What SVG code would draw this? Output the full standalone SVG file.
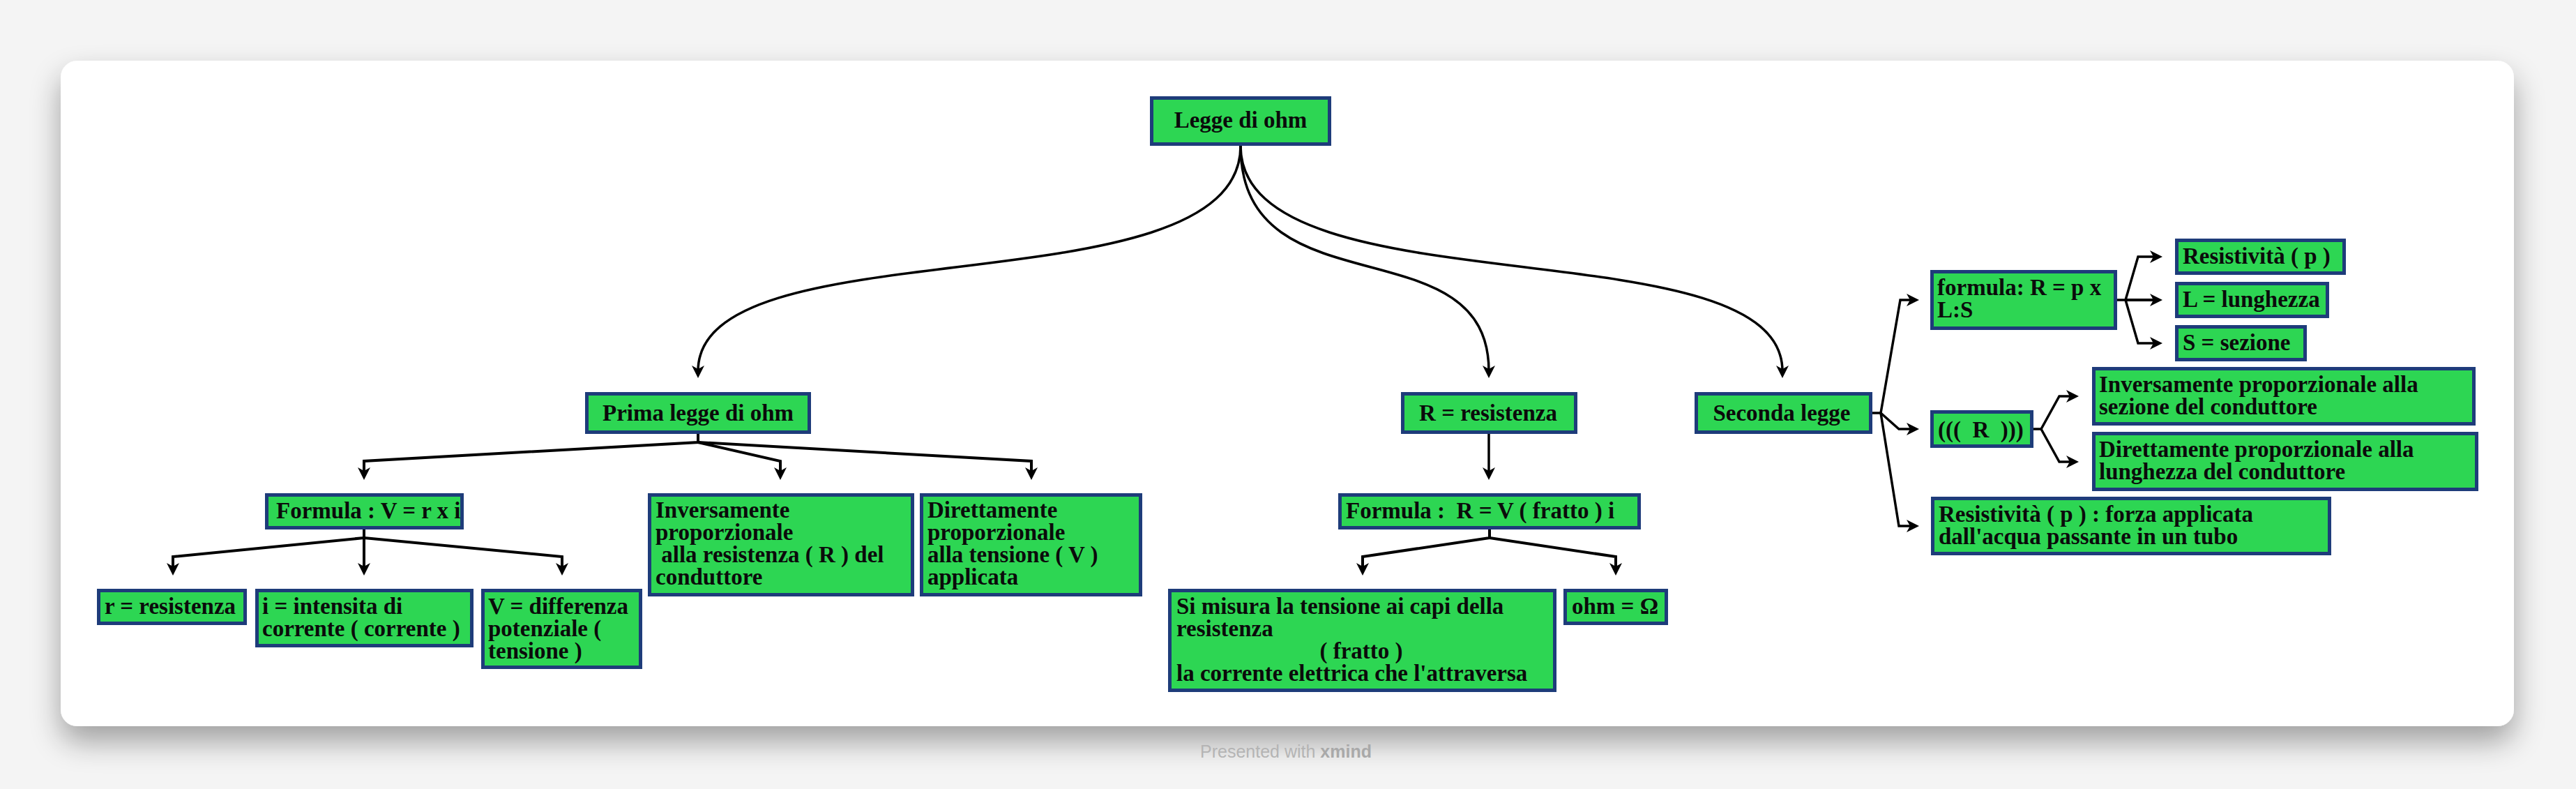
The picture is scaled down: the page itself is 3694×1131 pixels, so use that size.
<svg xmlns="http://www.w3.org/2000/svg" width="3694" height="1131" viewBox="0 0 3694 1131">
<style>
.box{fill:#2dd653;stroke:#1e3c7a;stroke-width:5}
.t{font-family:"Liberation Serif","Times New Roman",serif;font-weight:bold;font-size:33px;fill:#0b0b0b}
.c{text-anchor:middle}
.ln{fill:none;stroke:#000;stroke-width:4;stroke-linejoin:miter}
.cv{fill:none;stroke:#000;stroke-width:3.5}
.foot{font-family:"Liberation Sans","Noto Sans",sans-serif;font-size:25px;fill:#b4b4b4}
</style>
<defs>
<marker id="ah" markerUnits="userSpaceOnUse" viewBox="-12 -12 26 24" refX="0" refY="0" markerWidth="26" markerHeight="24" orient="auto">
<path d="M10,0 L-8,-9 L-3,0 L-8,9 Z" fill="#000"/>
</marker>
<filter id="sh" x="-5%" y="-10%" width="110%" height="130%">
<feGaussianBlur in="SourceAlpha" stdDeviation="22"/>
<feOffset dy="22" result="b"/>
<feComponentTransfer><feFuncA type="linear" slope="0.35"/></feComponentTransfer>
<feMerge><feMergeNode/><feMergeNode in="SourceGraphic"/></feMerge>
</filter>
</defs>
<rect x="0" y="0" width="3694" height="1131" fill="#f4f4f4"/>
<rect x="87" y="87" width="3518" height="954" rx="24" fill="#ffffff" filter="url(#sh)"/>
<text class="foot" x="1721" y="1086">Presented with <tspan font-weight="bold" fill="#a9a9a9">xmind</tspan></text>

<g id="connectors">
<path class="cv" marker-end="url(#ah)" d="M1779,209 C1779,450 1001,318 1001,532"/>
<path class="cv" marker-end="url(#ah)" d="M1779,209 C1779,450 2135,318 2135,532"/>
<path class="cv" marker-end="url(#ah)" d="M1779,209 C1779,450 2556,318 2556,532"/>
<path class="ln" marker-end="url(#ah)" d="M1001,622 L1001,634 L522,661 L522,678"/>
<path class="ln" marker-end="url(#ah)" d="M1001,634 L1119,661 L1119,678"/>
<path class="ln" marker-end="url(#ah)" d="M1001,634 L1479,661 L1479,678"/>
<path class="ln" marker-end="url(#ah)" d="M522,759 L522,771 L248,798 L248,815"/>
<path class="ln" marker-end="url(#ah)" d="M522,771 L522,815"/>
<path class="ln" marker-end="url(#ah)" d="M522,771 L806,798 L806,815"/>
<path class="cv" marker-end="url(#ah)" d="M2135,622 L2135,678"/>
<path class="ln" marker-end="url(#ah)" d="M2136,759 L2136,771 L1954,798 L1954,815"/>
<path class="ln" marker-end="url(#ah)" d="M2136,771 L2317,798 L2317,815"/>
<path class="cv" marker-end="url(#ah)" d="M2685,592 L2697,592 L2725,430 L2742,430"/>
<path class="cv" marker-end="url(#ah)" d="M2697,592 L2723,615 L2742,615"/>
<path class="cv" marker-end="url(#ah)" d="M2697,592 L2723,754 L2742,754"/>
<path class="cv" marker-end="url(#ah)" d="M3036,430 L3048,430 L3066,368 L3091,368"/>
<path class="ln" marker-end="url(#ah)" d="M3048,430 L3091,430"/>
<path class="cv" marker-end="url(#ah)" d="M3048,430 L3066,492 L3091,492"/>
<path class="cv" marker-end="url(#ah)" d="M2916,615 L2927,615 L2953,568 L2971,568"/>
<path class="cv" marker-end="url(#ah)" d="M2927,615 L2953,662 L2971,662"/>
</g>

<g id="n-root"><rect class="box" x="1651.5" y="140.5" width="255" height="66"/><text class="t c" x="1779" y="183">Legge di ohm</text></g>
<g id="n-prima"><rect class="box" x="841.5" y="564.5" width="319" height="55"/><text class="t c" x="1001" y="603">Prima legge di ohm</text></g>
<g id="n-rres"><rect class="box" x="2011.5" y="564.5" width="248" height="55"/><text class="t c" x="2134" y="603">R = resistenza</text></g>
<g id="n-seconda"><rect class="box" x="2432.5" y="564.5" width="250" height="55"/><text class="t c" x="2555" y="603">Seconda legge</text></g>
<g id="n-fv"><rect class="box" x="382.5" y="709.5" width="280" height="47"/><text class="t" x="396" y="743">Formula : V = r x i</text></g>
<g id="n-inv"><rect class="box" x="931.5" y="709.5" width="377" height="143"/><text class="t" xml:space="preserve"><tspan x="940" y="742">Inversamente</tspan><tspan x="940" y="774">proporzionale</tspan><tspan x="940" y="806"> alla resistenza ( R ) del</tspan><tspan x="940" y="838">conduttore</tspan></text></g>
<g id="n-dir"><rect class="box" x="1321.5" y="709.5" width="314" height="143"/><text class="t"><tspan x="1330" y="742">Direttamente</tspan><tspan x="1330" y="774">proporzionale</tspan><tspan x="1330" y="806">alla tensione ( V )</tspan><tspan x="1330" y="838">applicata</tspan></text></g>
<g id="n-fr"><rect class="box" x="1921.5" y="709.5" width="429" height="47"/><text class="t" x="1930" y="743" xml:space="preserve">Formula :  R = V ( fratto ) i</text></g>
<g id="n-r"><rect class="box" x="141.5" y="846.5" width="210" height="47"/><text class="t" x="150" y="880">r = resistenza</text></g>
<g id="n-i"><rect class="box" x="368.5" y="846.5" width="308" height="79"/><text class="t"><tspan x="376" y="880">i = intensita di</tspan><tspan x="376" y="912">corrente ( corrente )</tspan></text></g>
<g id="n-V"><rect class="box" x="692.5" y="846.5" width="226" height="110"/><text class="t"><tspan x="700" y="880">V = differenza</tspan><tspan x="700" y="912">potenziale (</tspan><tspan x="700" y="944">tensione )</tspan></text></g>
<g id="n-si"><rect class="box" x="1677.5" y="846.5" width="552" height="143"/><text class="t"><tspan x="1687" y="880">Si misura la tensione ai capi della</tspan><tspan x="1687" y="912">resistenza</tspan><tspan x="1952" y="944" text-anchor="middle">( fratto )</tspan><tspan x="1687" y="976">la corrente elettrica che l'attraversa</tspan></text></g>
<g id="n-ohm"><rect class="box" x="2244.5" y="846.5" width="145" height="47"/><text class="t" x="2254" y="880">ohm = Ω</text></g>
<g id="n-frm"><rect class="box" x="2770.5" y="389.5" width="263" height="81"/><text class="t"><tspan x="2778" y="423">formula: R = p x</tspan><tspan x="2778" y="455">L:S</tspan></text></g>
<g id="n-res1"><rect class="box" x="3121.5" y="344.5" width="240" height="47"/><text class="t" x="3130" y="378">Resistività ( p )</text></g>
<g id="n-L"><rect class="box" x="3121.5" y="406.5" width="216" height="47"/><text class="t" x="3130" y="440">L = lunghezza</text></g>
<g id="n-S"><rect class="box" x="3121.5" y="468.5" width="184" height="47"/><text class="t" x="3130" y="502">S = sezione</text></g>
<g id="n-R3"><rect class="box" x="2770.5" y="590.5" width="143" height="49"/><text class="t" x="2779" y="627" xml:space="preserve">(((  R  )))</text></g>
<g id="n-inv2"><rect class="box" x="3002.5" y="528.5" width="545" height="79"/><text class="t"><tspan x="3010" y="562">Inversamente proporzionale alla</tspan><tspan x="3010" y="594">sezione del conduttore</tspan></text></g>
<g id="n-dir2"><rect class="box" x="3002.5" y="621.5" width="549" height="80"/><text class="t"><tspan x="3010" y="655">Direttamente proporzionale alla</tspan><tspan x="3010" y="687">lunghezza del conduttore</tspan></text></g>
<g id="n-res2"><rect class="box" x="2771.5" y="714.5" width="569" height="79"/><text class="t"><tspan x="2780" y="748">Resistività ( p ) : forza applicata</tspan><tspan x="2780" y="780">dall'acqua passante in un tubo</tspan></text></g>
</svg>
